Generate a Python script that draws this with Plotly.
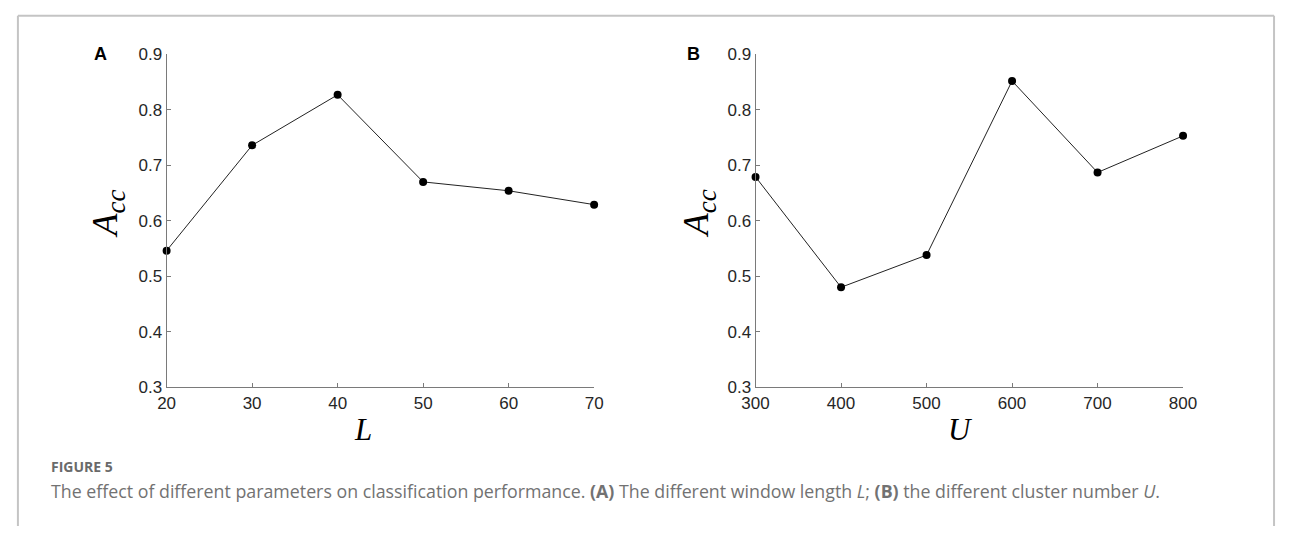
import plotly.graph_objects as go

W, H = 1290, 536

# Data
L_vals = [20, 30, 40, 50, 60, 70]
acc_L = [0.546, 0.736, 0.827, 0.670, 0.654, 0.629]
U_vals = [300, 400, 500, 600, 700, 800]
acc_U = [0.679, 0.480, 0.538, 0.852, 0.687, 0.753]
y_ticks = [0.3, 0.4, 0.5, 0.6, 0.7, 0.8, 0.9]
L_ticks = [20, 30, 40, 50, 60, 70]
U_ticks = [300, 400, 500, 600, 700, 800]

def px(x):
    return x / W

def py(y):
    return 1 - y / H

fig = go.Figure()
fig.add_trace(go.Scatter(x=L_vals, y=acc_L, mode="lines+markers", xaxis="x", yaxis="y",
                         line=dict(color="#222", width=1), marker=dict(color="black", size=8),
                         cliponaxis=False, showlegend=False))
fig.add_trace(go.Scatter(x=U_vals, y=acc_U, mode="lines+markers", xaxis="x2", yaxis="y2",
                         line=dict(color="#222", width=1), marker=dict(color="black", size=8),
                         cliponaxis=False, showlegend=False))

axis_common = dict(showgrid=False, zeroline=False, showline=True, linecolor="#7a7a7a", linewidth=1,
                   ticks="inside", ticklen=4, tickcolor="#7a7a7a", mirror=False,
                   tickfont=dict(family="Liberation Sans, Arial", size=17, color="#262626"))

y_dom = [py(392), py(47)]
fig.update_layout(
    width=W, height=H, margin=dict(l=0, r=0, t=0, b=0),
    paper_bgcolor="white", plot_bgcolor="white",
    xaxis=dict(domain=[px(156), px(593)], range=[20, 70], tickvals=L_ticks, anchor="y", **axis_common),
    yaxis=dict(domain=y_dom, range=[0.3, 0.9], tickvals=y_ticks, tickformat=".1f", anchor="x", **axis_common),
    xaxis2=dict(domain=[px(758), px(1195)], range=[300, 800], tickvals=U_ticks, anchor="y2", **axis_common),
    yaxis2=dict(domain=y_dom, range=[0.3, 0.9], tickvals=y_ticks, tickformat=".1f", anchor="x2", **axis_common),
)

ann = []
serif = "Liberation Serif, Times New Roman, serif"
acc_txt = "<i>A</i><sub><i><span style='font-size:27px'>cc</span></i></sub>"
ann.append(dict(x=px(97), y=py(212), text=acc_txt, textangle=-90,
                font=dict(family=serif, size=36, color="black")))
ann.append(dict(x=px(701), y=py(212), text=acc_txt, textangle=-90,
                font=dict(family=serif, size=36, color="black")))
ann.append(dict(x=px(357), y=py(436), text="<i>L</i>", font=dict(family=serif, size=31, color="black")))
ann.append(dict(x=px(968), y=py(436), text="<i>U</i>", font=dict(family=serif, size=31, color="black")))
ann.append(dict(x=px(88), y=py(47), text="<b>A</b>", font=dict(family="Liberation Sans, Arial", size=18, color="black")))
ann.append(dict(x=px(695), y=py(47), text="<b>B</b>", font=dict(family="Liberation Sans, Arial", size=18, color="black")))
ann.append(dict(x=px(36), y=py(474), xanchor="left", text="<b>FIGURE 5</b>",
                font=dict(family="Open Sans", size=14, color="#6a6a6a")))
ann.append(dict(x=px(36), y=py(500), xanchor="left",
                text="The effect of different parameters on classification performance. <b>(A)</b> The different window length <i>L</i>; <b>(B)</b> the different cluster number <i>U</i>.",
                font=dict(family="Open Sans", size=17.8, color="#727272")))
for a in ann:
    a.setdefault("xanchor", "center")
    a.update(xref="paper", yref="paper", yanchor="middle", showarrow=False)
fig.update_layout(annotations=ann)

frame = dict(color="#c4c4c4", width=2)
fig.add_shape(type="line", xref="paper", yref="paper", x0=px(4), x1=px(4), y0=0, y1=py(7), line=frame)
fig.add_shape(type="line", xref="paper", yref="paper", x0=px(4), x1=px(1288), y0=py(7), y1=py(7), line=frame)
fig.add_shape(type="line", xref="paper", yref="paper", x0=px(1288), x1=px(1288), y0=0, y1=py(7), line=frame)

fig.write_html("out.html", config={"displayModeBar": False},
               post_script="document.body.style.margin='0px';document.body.style.overflow='hidden';")
